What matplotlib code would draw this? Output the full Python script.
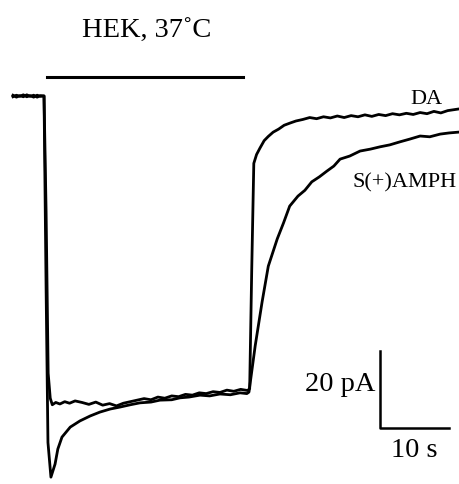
"""Corrente em células HEK: DA vs S(+)AMPH a 37 °C."""

import matplotlib.pyplot as plt

plt.rcParams["font.family"] = ["Liberation Serif", "DejaVu Serif"]

# traço DA: tempo (s) e corrente (pA)
tempo_da = [0, 0.5, 1, 1.5, 2, 2.5, 3, 3.5, 4, 4.5,
            4.8, 5.1, 5.4, 5.7, 6.2, 6.8, 7.5, 8.2, 9, 10,
            11, 12, 13, 14, 15, 16, 17, 18, 19, 20,
            21, 22, 23, 24, 25, 26, 27, 28, 29, 30,
            31, 32, 33, 34, 34.3, 34.6, 34.9, 35.3, 35.8, 36.4,
            37, 37.7, 38.5, 39.3, 40.2, 41, 42, 43, 44, 45,
            46, 47, 48, 49, 50, 51, 52, 53, 54, 55,
            56, 57, 58, 59, 60, 61, 62, 63, 64.5]
corrente_da = [0.2, -0.3, 0.1, -0.2, 0.3, -0.1, 0.2, -0.3, 0.1, 0,
               -30, -72, -78.5, -80.2, -79.6, -80.0, -79.4, -79.8, -79.2, -79.6,
               -80.1, -79.5, -80.3, -79.9, -80.5, -79.8, -79.4, -79.0, -78.6, -78.9,
               -78.2, -78.5, -77.9, -78.1, -77.5, -77.7, -77.1, -77.3, -76.8, -77.0,
               -76.4, -76.7, -76.2, -76.5, -76.0, -45, -17.5, -15.2, -13.5, -11.6,
               -10.5, -9.4, -8.6, -7.6, -7.0, -6.5, -6.1, -5.6, -5.9, -5.4,
               -5.7, -5.2, -5.6, -5.1, -5.4, -4.9, -5.3, -4.8, -5.1, -4.6,
               -4.9, -4.5, -4.8, -4.3, -4.6, -4.0, -4.4, -3.8, -3.4]

# traço S(+)AMPH
tempo_amph = [0, 0.5, 1, 1.5, 2, 2.5, 3, 3.5, 4, 4.5,
              4.8, 5.07, 5.5, 6.1, 6.5, 7.1, 8.3, 9.7, 11.2, 12.6,
              14.1, 15.5, 17, 18.4, 20, 21.3, 23, 24.2, 25.5, 27.1,
              28.5, 30, 31.5, 32.9, 33.9, 34.2, 35.1, 36.1, 37.0, 38.3,
              39.2, 40.1, 41.3, 42.3, 43.3, 44.4, 45.5, 46.5, 47.4, 48.8,
              50.3, 51.8, 53.2, 54.6, 56.1, 57.5, 59.0, 60.4, 61.9, 63.2,
              64.5]
corrente_amph = [-0.2, 0.2, -0.1, 0.3, -0.2, 0.1, -0.3, 0.2, -0.1, 0,
                 -50, -90, -99.0, -95.6, -91.7, -88.6, -86.0, -84.4, -83.1, -82.1,
                 -81.3, -80.8, -80.2, -79.7, -79.5, -79.0, -78.9, -78.4, -78.2, -77.7,
                 -77.9, -77.4, -77.6, -77.1, -77.3, -76.9, -64.9, -53.5, -44.2, -37.1,
                 -33.0, -28.6, -26.0, -24.5, -22.3, -21.0, -19.5, -18.2, -16.4, -15.6,
                 -14.3, -13.8, -13.2, -12.7, -11.9, -11.2, -10.4, -10.6, -9.9, -9.6,
                 -9.4]

# aplicação da droga (s)
aplicacao = (4.9, 33.3)

fig = plt.figure(figsize=(4.6, 4.85), dpi=100)
ax = fig.add_axes([0, 0, 1, 1])
ax.set_xlim(-1.88, 64.78)
ax.set_ylim(-100.78, 25.19)
ax.axis("off")

ax.plot(tempo_amph, corrente_amph, color="black", lw=2.0)
ax.plot(tempo_da, corrente_da, color="black", lw=2.0)

ax.plot(aplicacao, [4.9, 4.9], color="black", lw=2.2)
ax.text(19.4, 17.1, "HEK, 37˚C", fontsize=20.5, ha="center", va="center")

ax.text(62.2, -1.8, "DA", fontsize=16, ha="right", va="baseline")
ax.text(64.3, -23.6, "S(+)AMPH", fontsize=16, ha="right", va="baseline")

# barra de escala: 10 s x 20 pA
x0, y0 = 53.2, -86.2
ax.plot([x0, x0, x0 + 10], [y0 + 20, y0, y0], color="black", lw=1.8)
ax.text(52.6, -74.8, "20 pA", fontsize=20.5, ha="right", va="center")
ax.text(58.1, -91.7, "10 s", fontsize=20.5, ha="center", va="center")

fig.savefig("out.png", dpi=100)
plt.close(fig)
